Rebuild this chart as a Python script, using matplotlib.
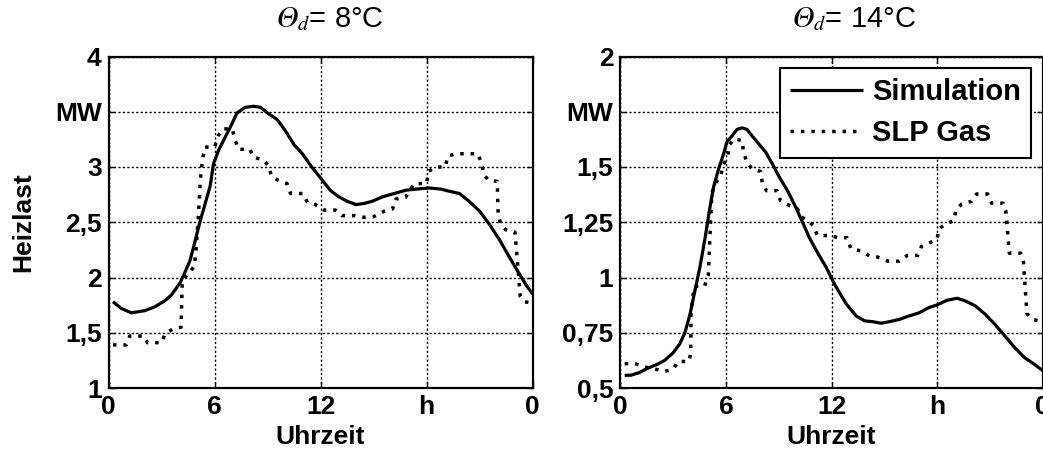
import matplotlib
matplotlib.use("Agg")
import matplotlib.pyplot as plt

plt.rcParams['font.family'] = ['Liberation Sans', 'DejaVu Sans']
plt.rcParams['mathtext.fontset'] = 'stix'

# Tageslastgang Heizlast, Θd = 8 °C
sim8_h = [0.25, 0.72, 1.29, 2.05, 2.62, 3.19, 3.57, 4.04, 4.33, 4.6, 4.8, 4.99,
          5.18, 5.46, 5.75, 5.94, 6.22, 6.6, 6.98, 7.27, 7.74, 8.2, 8.6, 9.07,
          9.54, 10.0, 10.5, 10.97, 11.5, 12.1, 12.57, 13.04, 13.5, 14.0, 14.46,
          14.93, 15.5, 16.16, 16.83, 17.4, 18.15, 18.8, 19.3, 19.86, 20.4, 21.0,
          21.56, 22.13, 22.7, 23.26, 23.64, 24.0]
sim8_mw = [1.78, 1.72, 1.68, 1.70, 1.735, 1.79, 1.845, 1.95, 2.05, 2.15, 2.27, 2.39,
           2.51, 2.665, 2.83, 3.03, 3.15, 3.27, 3.39, 3.49, 3.54, 3.55, 3.54, 3.48,
           3.43, 3.33, 3.2, 3.12, 3.0, 2.88, 2.785, 2.73, 2.69, 2.66, 2.67,
           2.69, 2.73, 2.76, 2.79, 2.80, 2.81, 2.80, 2.78, 2.76, 2.69, 2.60,
           2.48, 2.34, 2.18, 2.03, 1.93, 1.85]

slp8_h = [0.25, 1.0, 1.2, 2.0, 2.2, 3.0, 3.2, 3.6, 4.1, 4.17, 4.85, 4.95, 5.1,
          5.2, 5.3, 5.45, 6.0, 6.2, 6.45, 7.0, 7.15, 7.35, 8.0, 8.2, 8.8, 9.1,
          9.2, 9.6, 10.1, 10.3, 11.0, 11.25, 11.7, 12.2, 12.85, 13.2, 13.9,
          14.46, 15.0, 15.6, 16.07, 16.26, 16.8, 17.3, 18.0, 18.1, 18.5, 19.06,
          19.2, 19.7, 20.9, 21.1, 21.25, 21.5, 22.0, 22.05, 22.2, 22.5, 23.0,
          23.05, 23.3, 23.55, 24.0]
slp8_mw = [1.39, 1.39, 1.47, 1.47, 1.41, 1.41, 1.49, 1.53, 1.55, 1.97, 2.1, 2.25, 2.6,
           2.9, 3.05, 3.18, 3.18, 3.28, 3.345, 3.345, 3.25, 3.16, 3.16, 3.09, 3.06, 3.0,
           2.92, 2.88, 2.85, 2.76, 2.76, 2.68, 2.66, 2.61, 2.61, 2.56, 2.56,
           2.545, 2.55, 2.6, 2.62, 2.71, 2.725, 2.85, 2.85, 2.96, 3.0, 3.0,
           3.1, 3.12, 3.12, 3.04, 2.93, 2.88, 2.87, 2.57, 2.48, 2.43, 2.41,
           2.32, 1.83, 1.78, 1.77]

# Tageslastgang Heizlast, Θd = 14 °C
sim14_h = [0.25, 0.61, 1.09, 1.57, 2.04, 2.52, 3.0, 3.38, 3.67, 3.96, 4.24, 4.53,
           4.82, 5.06, 5.3, 5.58, 5.87, 6.06, 6.34, 6.63, 6.92, 7.2, 7.49, 7.87,
           8.26, 8.64, 9.02, 9.5, 9.97, 10.36, 10.74, 11.2, 11.7, 12.2, 12.84,
           13.4, 13.87, 14.34, 14.81, 15.28, 15.84, 16.4, 16.97, 17.53, 18.0,
           18.56, 19.13, 19.6, 20.16, 20.72, 21.28, 21.84, 22.4, 22.97, 23.53, 24.0]
sim14_mw = [0.557, 0.558, 0.57, 0.59, 0.605, 0.625, 0.659, 0.70, 0.75, 0.834, 0.94, 1.05,
            1.18, 1.302, 1.41, 1.49, 1.56, 1.615, 1.64, 1.67, 1.677, 1.67, 1.64, 1.604,
            1.567, 1.514, 1.456, 1.393, 1.317, 1.249, 1.18, 1.113, 1.045, 0.965, 0.88,
            0.826, 0.804, 0.80, 0.793, 0.80, 0.81, 0.826, 0.84, 0.864, 0.876,
            0.897, 0.906, 0.894, 0.872, 0.834, 0.788, 0.736, 0.683, 0.637, 0.607, 0.578]

slp14_h = [0.25, 0.84, 1.38, 1.95, 2.52, 3.0, 3.29, 3.9, 4.0, 4.02, 4.2, 4.78, 5.0,
           5.1, 5.2, 5.4, 5.73, 5.8, 6.1, 6.2, 6.44, 6.92, 7.0, 7.2, 7.5, 7.97,
           8.06, 8.3, 8.9, 9.1, 9.55, 10.07, 10.26, 10.6, 10.95, 11.2, 11.9,
           12.37, 12.88, 13.1, 13.7, 14.16, 14.6, 15.2, 15.85, 16.3, 16.9, 17.1,
           17.57, 18.0, 18.1, 18.43, 18.94, 19.07, 19.4, 19.97, 20.25, 20.87,
           21.1, 21.75, 21.9, 22.1, 22.74, 22.9, 23.1, 23.44, 24.0]
slp14_mw = [0.61, 0.61, 0.595, 0.586, 0.575, 0.585, 0.62, 0.62, 0.66, 0.85, 0.96, 0.96, 1.01,
            1.2, 1.38, 1.426, 1.465, 1.5, 1.55, 1.6, 1.627, 1.62, 1.567, 1.52, 1.49, 1.48,
            1.43, 1.393, 1.393, 1.347, 1.328, 1.31, 1.275, 1.26, 1.237, 1.19, 1.19,
            1.18, 1.18, 1.13, 1.12, 1.097, 1.093, 1.074, 1.074, 1.10, 1.10, 1.14,
            1.157, 1.175, 1.22, 1.24, 1.257, 1.305, 1.333, 1.345, 1.378, 1.378,
            1.336, 1.336, 1.30, 1.11, 1.11, 1.07, 0.836, 0.81, 0.80]

x_ticks = [0, 6, 12, 18, 24]
x_ticklabels = ['0', '6', '12', 'h', '0']
y8_ticks = [1, 1.5, 2, 2.5, 3, 3.5, 4]
y8_ticklabels = ['1', '1,5', '2', '2,5', '3', 'MW', '4']
y14_ticks = [0.5, 0.75, 1, 1.25, 1.5, 1.75, 2]
y14_ticklabels = ['0,5', '0,75', '1', '1,25', '1,5', 'MW', '2']

# mathematical italic capital theta with subscript d
titles = ['$\U0001D6E9_{d}$= 8°C', '$\U0001D6E9_{d}$= 14°C']

W, H = 1043, 454
fig = plt.figure(figsize=(W / 100, H / 100), dpi=100)
ax1 = fig.add_axes([108.6 / W, 1 - 388 / H, 424 / W, 331.5 / H])
ax2 = fig.add_axes([620.3 / W, 1 - 388 / H, 422.5 / W, 331.5 / H])

FS = 19
panels = [
    (ax1, sim8_h, sim8_mw, slp8_h, slp8_mw, y8_ticks, y8_ticklabels, titles[0], 0.522),
    (ax2, sim14_h, sim14_mw, slp14_h, slp14_mw, y14_ticks, y14_ticklabels, titles[1], 0.552),
]
for ax, sh, sv, ph, pv, yt, ytl, title, tx in panels:
    ax.plot(sh, sv, color='black', lw=2.3, solid_capstyle='butt', label='Simulation', zorder=3)
    ax.plot(ph, pv, color='black', lw=2.5, linestyle=(0, (1, 2)), label='SLP Gas', zorder=3)
    ax.set_xlim(0, 24)
    ax.set_ylim(yt[0], yt[-1])
    ax.set_xticks(x_ticks)
    ax.set_xticklabels(x_ticklabels)
    ax.set_yticks(yt)
    ax.set_yticklabels(ytl)
    ax.grid(True, color='black', lw=1.0, linestyle=(0, (1.6, 1.6)))
    ax.tick_params(direction='in', length=4, width=1, top=True, right=True,
                   labelsize=FS, pad=5)
    for lab in ax.get_xticklabels() + ax.get_yticklabels():
        lab.set_fontweight('bold')
    for sp in ax.spines.values():
        sp.set_linewidth(1.6)
        sp.set_color('black')
    ax.set_xlabel('Uhrzeit', fontsize=FS, fontweight='bold', labelpad=4)
    ax.set_title(title, fontsize=21, pad=21, x=tx)

ax1.set_ylabel('Heizlast', fontsize=FS, fontweight='bold')
ax1.yaxis.set_label_coords(-0.172, 0.5)

leg = ax2.legend(loc='upper right', bbox_to_anchor=(0.972, 0.965), borderaxespad=0,
                 fancybox=False, framealpha=1, edgecolor='black',
                 prop={'family': 'Liberation Sans', 'weight': 'bold', 'size': 21},
                 handlelength=2.5, handletextpad=0.3, labelspacing=0.45, borderpad=0.35)
leg.get_frame().set_linewidth(1.5)

fig.savefig('out.png', dpi=100)
